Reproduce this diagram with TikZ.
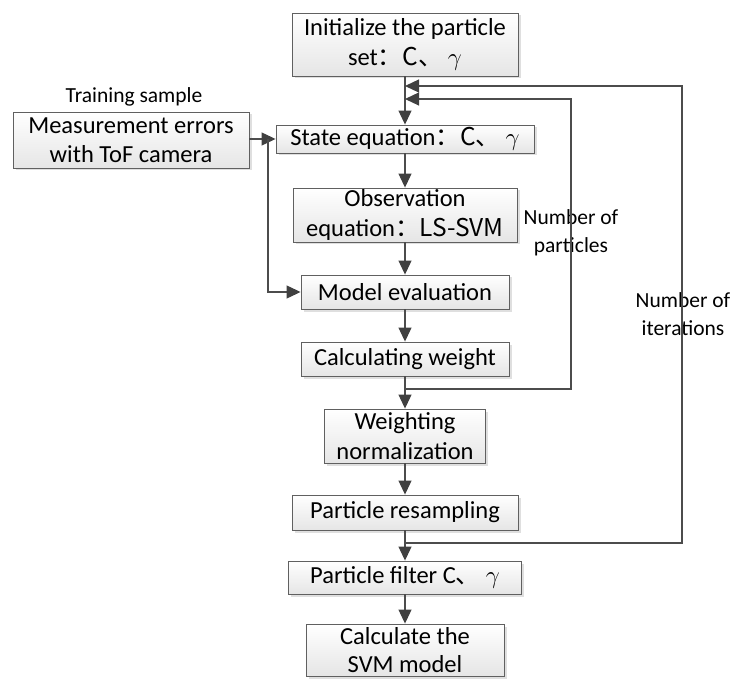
\documentclass[tikz,border=0pt]{standalone}
\usepackage{fontspec}
\setmainfont{Carlito}
\newfontfamily\cjk{Noto Sans CJK SC}
\usetikzlibrary{arrows.meta, shadows}

\begin{document}
\begin{tikzpicture}[x=1pt, y=-1pt,
    boite/.style={draw=gray!75!black, line width=0.9pt, top color=white, bottom color=gray!20,
        drop shadow={shadow xshift=2.5pt, shadow yshift=-2.5pt, fill=gray, opacity=.25},
        align=center, inner sep=0pt, font=\fontsize{24.5}{29.5}\selectfont},
    etiq/.style={align=center, inner sep=0pt, font=\fontsize{21.5}{28}\selectfont},
    fleche/.style={draw=gray!60!black, line width=1.2pt, -{Triangle[length=14pt, width=13pt, color=black!75, fill=black!75]}}]
    \useasboundingbox (0,0) rectangle (734,679);

    % Boites du schema
    \node[boite, minimum width=226pt, minimum height=63pt] (init) at (405,44.5) {Initialize the particle\\set\cjk{：}C\cjk{、} $\gamma$};
    \node[boite, minimum width=236pt, minimum height=56pt] (meas) at (131,140) {Measurement errors\\with ToF camera};
    \node[boite, minimum width=258pt, minimum height=28pt] (state) at (405,139) {State equation\cjk{：}C\cjk{、} $\gamma$};
    \node[boite, minimum width=224pt, minimum height=54pt] (obs) at (405,215) {Observation\\equation\cjk{：}LS-SVM};
    \node[boite, minimum width=208pt, minimum height=34pt] (model) at (405,292) {Model evaluation};
    \node[boite, minimum width=208pt, minimum height=34pt] (calc) at (405,359) {Calculating weight};
    \node[boite, minimum width=161pt, minimum height=54pt] (wnorm) at (405,436) {Weighting\\normalization};
    \node[boite, minimum width=226pt, minimum height=35pt] (resamp) at (405,512.5) {Particle resampling};
    \node[boite, minimum width=233pt, minimum height=33pt] (filt) at (405,577.5) {Particle filter C\cjk{、} $\gamma$};
    \node[boite, minimum width=198pt, minimum height=52pt, font=\fontsize{24.5}{28}\selectfont] (svm) at (405,650) {Calculate the\\SVM model};

    % Textes
    \node[etiq] (train) at (134,97) {Training sample};
    \node[etiq] (npart) at (571,233) {Number of\\particles};
    \node[etiq] (niter) at (683,314) {Number of\\iterations};

    % Points de jonction
    \coordinate (iIn) at (405,86);
    \coordinate (pIn) at (405,99);
    \coordinate (split) at (268,139);
    \coordinate (pOut) at (405,389);
    \coordinate (iOut) at (405,543);

    % Fleches principales
    \draw[fleche] (init) -- (state);
    \draw[fleche] (state) -- (obs);
    \draw[fleche] (obs) -- (model);
    \draw[fleche] (model) -- (calc);
    \draw[fleche] (calc) -- (wnorm);
    \draw[fleche] (wnorm) -- (resamp);
    \draw[fleche] (resamp) -- (filt);
    \draw[fleche] (filt) -- (svm);
    \draw[fleche] (meas.east |- state) -- (state.west);
    \draw[fleche] (split) |- (model.west);

    % Boucles de retour
    \draw[fleche] (pOut) -- ++(166,0) |- (pIn);
    \draw[fleche] (iOut) -- ++(277,0) |- (iIn);
\end{tikzpicture}
\end{document}
